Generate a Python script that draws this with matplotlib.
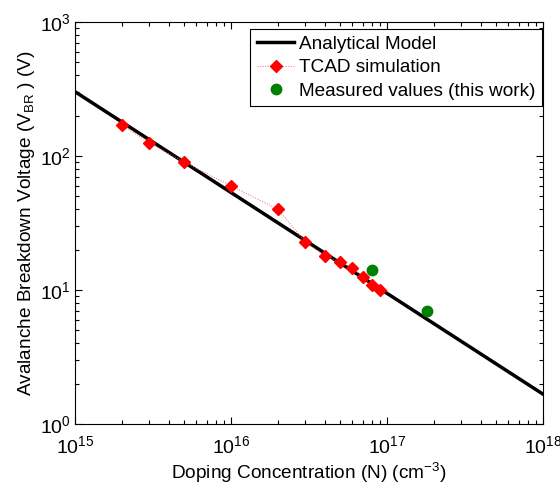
import matplotlib
matplotlib.use('Agg')
import matplotlib.pyplot as plt
import numpy as np

plt.rcParams['font.family'] = ['Liberation Sans', 'DejaVu Sans']
plt.rcParams['mathtext.fontset'] = 'custom'
plt.rcParams['mathtext.rm'] = 'Liberation Sans'
plt.rcParams['mathtext.it'] = 'Liberation Sans:italic'
plt.rcParams['mathtext.bf'] = 'Liberation Sans:bold'

# Analytical model (straight line on log-log)
model_n = [1e15, 1e18]
model_v = [302, 1.67]

# TCAD simulation
tcad_n = [2e15, 3e15, 5e15, 1e16, 2e16, 3e16, 4e16, 5e16, 6e16, 7e16, 8e16, 9e16]
tcad_v = [170, 125, 90, 60, 40, 22.7, 18, 16.2, 14.7, 12.6, 10.9, 10]

# Measured values
meas_n = [8e16, 1.8e17]
meas_v = [14.1, 7.0]

fig = plt.figure(figsize=(5.6, 4.87), dpi=100)
ax = fig.add_axes([75/560, 1 - 424/487, 468/560, 402/487])

ax.plot(model_n, model_v, color='black', lw=2.5, label='Analytical Model')
ax.plot(tcad_n, tcad_v, color='#ff6060', ls=':', lw=0.7, marker='D', ms=6.5,
        markeredgecolor='red', markerfacecolor='red', label='TCAD simulation')
ax.plot(meas_n, meas_v, ls='none', marker='o', ms=7.5, color=(0, 0.5, 0),
        label='Measured values (this work)')

ax.set_xscale('log')
ax.set_yscale('log')
ax.set_xlim(1e15, 1e18)
ax.set_ylim(1, 1e3)

ax.tick_params(which='both', direction='in', top=True, right=True, labelsize=14,
               width=0.8)
ax.tick_params(which='major', length=5)
ax.tick_params(which='minor', length=3)
ax.tick_params(axis='x', pad=8)
ax.tick_params(axis='y', pad=3)
for s in ax.spines.values():
    s.set_linewidth(0.8)

ax.set_xlabel('Doping Concentration (N) (cm$^{-3}$)', fontsize=13.7, labelpad=3)
ax.set_ylabel('Avalanche Breakdown Voltage (V$_{\\mathrm{BR}}$ ) (V)', fontsize=13.7,
              labelpad=2)

leg = ax.legend(loc='upper right', bbox_to_anchor=(542/560, 1 - 29/487),
                bbox_transform=fig.transFigure, borderaxespad=0,
                fontsize=13.7, frameon=True, fancybox=False,
                edgecolor='black', framealpha=1, handlelength=1.95,
                borderpad=0.35, labelspacing=0.32, handletextpad=0.25)
leg.get_frame().set_linewidth(0.8)

fig.savefig('out.png', dpi=100)
